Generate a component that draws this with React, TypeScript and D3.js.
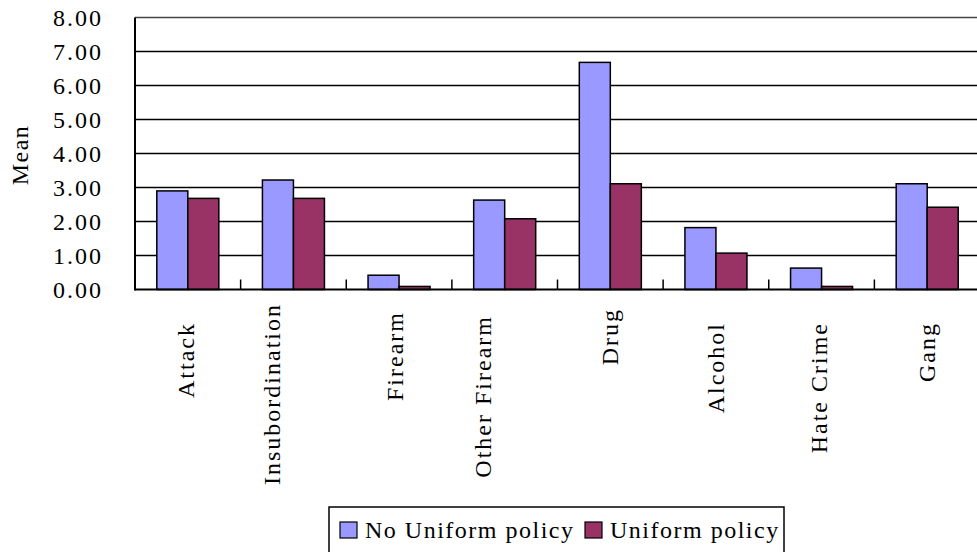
import React from "react";
import * as d3 from "d3";

const categories = ["Attack", "Insubordination", "Firearm", "Other Firearm", "Drug", "Alcohol", "Hate Crime", "Gang"];
const seriesNames = ["No Uniform policy", "Uniform policy"];
const noUniform = [2.9, 3.22, 0.42, 2.63, 6.68, 1.82, 0.63, 3.11];
const uniform = [2.68, 2.68, 0.09, 2.08, 3.11, 1.07, 0.09, 2.42];
const yTicks = [0, 1, 2, 3, 4, 5, 6, 7, 8];

// layout only: top y where each rotated label ends, and horizontal shift
const labelTop = [322, 303, 311, 315, 308, 322, 322, 322];
const labelShift = [-2, -21, -4, -22, 0, 0, -3, 0];

const colors = ["#9999FF", "#993366"];
const W = 977, H = 552;
const FONT = "'Liberation Serif', 'Times New Roman', serif";

export default function App() {
  const left = 135, right = 980, top = 17.5, bottom = 289.5;
  const x0 = d3.scaleBand<string>().domain(categories).range([left, right]).paddingInner(0).paddingOuter(0);
  const x1 = d3.scaleBand<string>().domain(seriesNames).range([0, x0.bandwidth()]).paddingInner(0).paddingOuter(0.703);
  const y = d3.scaleLinear().domain([0, 8]).range([bottom, top]);
  const values = [noUniform, uniform];

  return (
    <svg width={W} height={H} style={{ position: "absolute", left: 0, top: 0, background: "#fff" }} fontFamily={FONT}>
      <rect x={0} y={0} width={W} height={H} fill="#fff" />
      {yTicks.filter((t) => t > 0).map((t) => (
        <line key={"g" + t} x1={left} x2={right} y1={y(t)} y2={y(t)} stroke={t === 8 ? "#444" : "#000"} strokeWidth={1.5} />
      ))}
      {categories.map((c, i) => (
        <g key={c} transform={`translate(${x0(c)},0)`}>
          {seriesNames.map((s, j) => (
            <rect key={s} x={x1(s)} y={y(values[j][i])} width={x1.bandwidth()} height={y(0) - y(values[j][i])}
              fill={colors[j]} stroke="#000" strokeWidth={1.5} />
          ))}
        </g>
      ))}
      <line x1={left} x2={left} y1={top} y2={bottom + 1} stroke="#000" strokeWidth={2} />
      <line x1={left} x2={right} y1={bottom} y2={bottom} stroke="#000" strokeWidth={2} />
      {categories.map((c, i) => i > 0 ? (
        <line key={"t" + c} x1={x0(c)} x2={x0(c)} y1={bottom - 10} y2={bottom} stroke="#000" strokeWidth={1.5} />
      ) : null)}
      {yTicks.map((t) => (
        <text key={"yl" + t} x={103} y={y(t)} textAnchor="end" dominantBaseline="central" fontSize={24} letterSpacing={2} fill="#000">
          {t.toFixed(2)}
        </text>
      ))}
      <text transform={`translate(20,155) rotate(-90)`} textAnchor="middle" dominantBaseline="central" fontSize={24} letterSpacing={1.5} fill="#000">Mean</text>
      {categories.map((c, i) => (
        <text key={"cl" + c} transform={`translate(${(x0(c) as number) + x0.bandwidth() / 2 + labelShift[i]},${labelTop[i]}) rotate(-90)`}
          textAnchor="end" dominantBaseline="central" fontSize={24} letterSpacing={2} fill="#000">{c}</text>
      ))}
      <rect x={329} y={507} width={455} height={60} fill="#fff" stroke="#000" strokeWidth={1.5} />
      {seriesNames.map((s, j) => {
        const mx = j === 0 ? 340 : 585;
        return (
          <g key={"lg" + s}>
            <rect x={mx} y={522} width={17} height={16} fill={colors[j]} stroke="#000" strokeWidth={1.2} />
            <text x={mx + 25} y={530} dominantBaseline="central" fontSize={24} letterSpacing={1.5} fill="#000">{s}</text>
          </g>
        );
      })}
    </svg>
  );
}
